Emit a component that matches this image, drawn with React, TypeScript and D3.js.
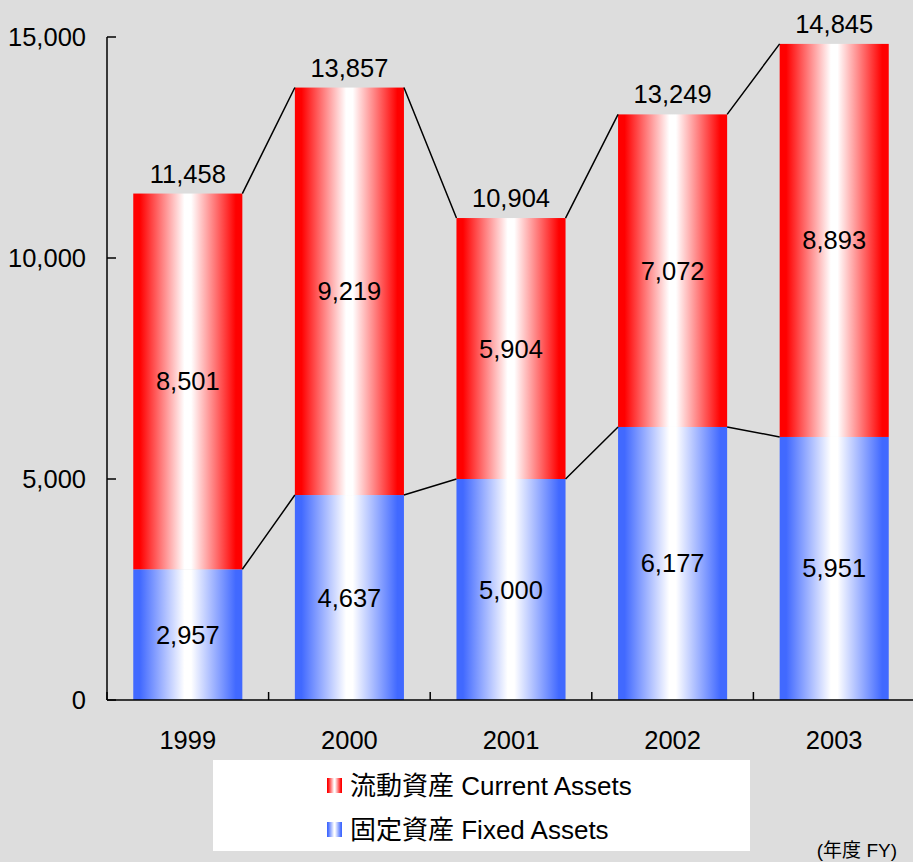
import * as React from 'react';
import {scaleBand, scaleLinear, format} from 'd3';

const years = ['1999', '2000', '2001', '2002', '2003'];
const fixedAssets = [2957, 4637, 5000, 6177, 5951];
const currentAssets = [8501, 9219, 5904, 7072, 8893];
const totals = [11458, 13857, 10904, 13249, 14845];
const yTicks = [0, 5000, 10000, 15000];

const W = 913;
const H = 862;
const margin = {left: 107, top: 37, right: -2, bottom: 162};
const baseY = H - margin.bottom;

const xScale = scaleBand<string>()
    .domain(years)
    .range([margin.left, W - margin.right])
    .paddingInner(0.325)
    .paddingOuter(0.1625);

const yScale = scaleLinear()
    .domain([0, 15000])
    .range([baseY, margin.top]);

const fmt = format(',');
const font = '"Liberation Sans", Arial, "Noto Sans CJK JP", sans-serif';
const RED = '#ff0000';
const BLUE = '#4169ff';
const FS = 25.5;

const Grad = ({id, color}: {id: string; color: string}) => (
    <linearGradient id={id} x1="0" x2="1" y1="0" y2="0">
        <stop offset="0" stopColor={color} />
        <stop offset="0.06" stopColor={color} />
        <stop offset="0.47" stopColor="#ffffff" />
        <stop offset="0.53" stopColor="#ffffff" />
        <stop offset="0.94" stopColor={color} />
        <stop offset="1" stopColor={color} />
    </linearGradient>
);

export default function App() {
    const bw = xScale.bandwidth();
    const step = xScale.step();
    const boundaries = years.map((_, i) => margin.left + step * i).concat([margin.left + step * years.length]);

    const totalLine: string[] = [];
    const fixedLine: string[] = [];
    years.forEach((yr, i) => {
        if (i === years.length - 1) return;
        const x0 = xScale(yr)! + bw;
        const x1 = xScale(years[i + 1])!;
        totalLine.push(`M${x0},${yScale(totals[i])}L${x1},${yScale(totals[i + 1])}`);
        fixedLine.push(`M${x0},${yScale(fixedAssets[i])}L${x1},${yScale(fixedAssets[i + 1])}`);
    });

    return (
        <svg width={W} height={H} style={{position: 'absolute', left: 0, top: 0, display: 'block'}}
             fontFamily={font}>
            <defs>
                <Grad id="gRed" color={RED} />
                <Grad id="gBlue" color={BLUE} />
            </defs>
            <rect width={W} height={H} fill="#dddddd" />

            {years.map((yr, i) => {
                const x = xScale(yr)!;
                const yFix = yScale(fixedAssets[i]);
                const yTop = yScale(fixedAssets[i] + currentAssets[i]);
                return (
                    <g key={yr}>
                        <rect x={x} y={yFix} width={bw} height={baseY - yFix} fill="url(#gBlue)" />
                        <rect x={x} y={yTop} width={bw} height={yFix - yTop} fill="url(#gRed)" />
                        <text x={x + bw / 2} y={(yFix + yTop) / 2 + 9} textAnchor="middle" fontSize={FS}>
                            {fmt(currentAssets[i])}
                        </text>
                        <text x={x + bw / 2} y={(yFix + baseY) / 2 + 9} textAnchor="middle" fontSize={FS}>
                            {fmt(fixedAssets[i])}
                        </text>
                        <text x={x + bw / 2} y={yScale(totals[i]) - 11} textAnchor="middle" fontSize={FS}>
                            {fmt(totals[i])}
                        </text>
                        <text x={x + bw / 2} y={749} textAnchor="middle" fontSize={FS}>{yr}</text>
                    </g>
                );
            })}

            <path d={totalLine.join('')} stroke="#000" strokeWidth={1.5} fill="none" />
            <path d={fixedLine.join('')} stroke="#000" strokeWidth={1.5} fill="none" />

            {/* axes */}
            <line x1={margin.left} x2={margin.left} y1={margin.top} y2={baseY} stroke="#000" strokeWidth={1.5} />
            <line x1={margin.left} x2={W} y1={baseY} y2={baseY} stroke="#000" strokeWidth={1.5} />
            {yTicks.map(t => (
                <g key={t}>
                    <line x1={margin.left} x2={margin.left + 9} y1={yScale(t)} y2={yScale(t)} stroke="#000" strokeWidth={1.5} />
                    <text x={86} y={yScale(t) + 9} textAnchor="end" fontSize={FS}>{fmt(t)}</text>
                </g>
            ))}
            {boundaries.map((b, i) => (
                <line key={i} x1={b} x2={b} y1={baseY} y2={baseY - 8} stroke="#000" strokeWidth={1.5} />
            ))}

            {/* legend */}
            <rect x={213} y={760} width={537} height={91} fill="#ffffff" />
            <rect x={327} y={778} width={15} height={15} fill="url(#gRed)" />
            <rect x={327} y={822} width={15} height={15} fill="url(#gBlue)" />
            <text x={350} y={795} fontSize={26}>流動資産 Current Assets</text>
            <text x={350} y={839} fontSize={26}>固定資産 Fixed Assets</text>

            <text x={897} y={857} textAnchor="end" fontSize={19}>(年度 FY)</text>
        </svg>
    );
}
